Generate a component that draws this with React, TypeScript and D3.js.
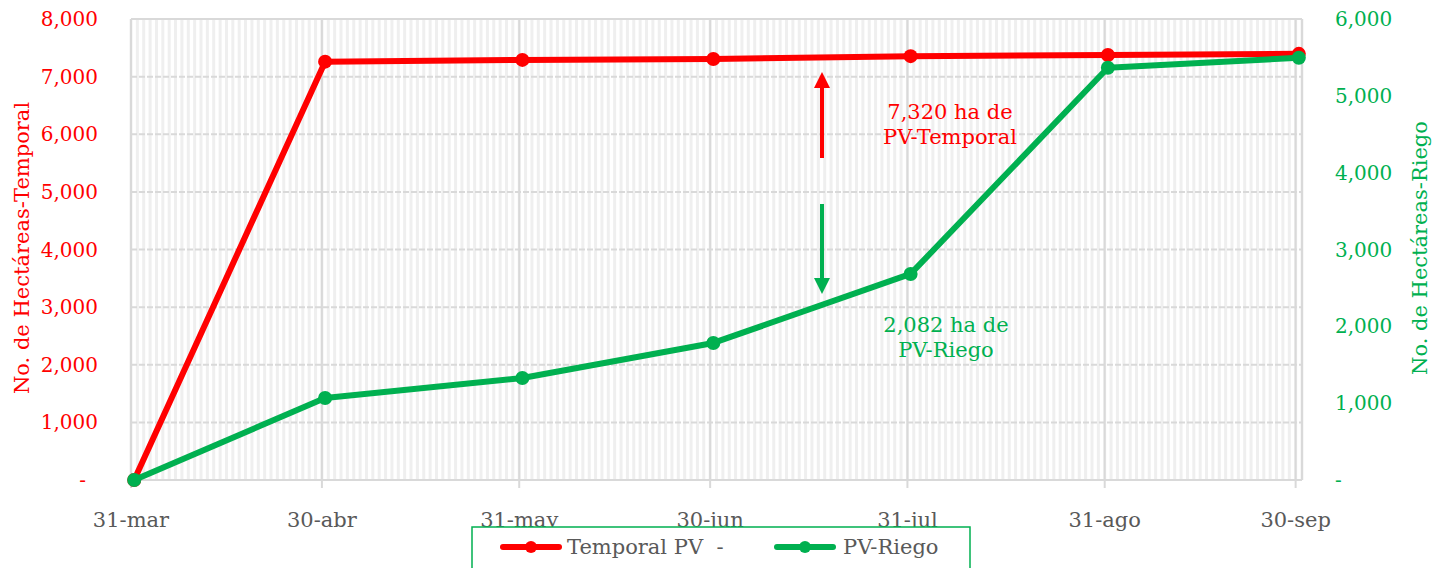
import React from "react";
import * as d3 from "d3";

const dateLabels = ["31-mar", "30-abr", "31-may", "30-jun", "31-jul", "31-ago", "30-sep"];
const dates = [
  new Date(2021, 2, 31),
  new Date(2021, 3, 30),
  new Date(2021, 4, 31),
  new Date(2021, 5, 30),
  new Date(2021, 6, 31),
  new Date(2021, 7, 31),
  new Date(2021, 8, 30),
];
const temporalValues = [0, 7260, 7290, 7305, 7355, 7375, 7395];
const riegoValues = [0, 1068, 1328, 1784, 2682, 5365, 5495];
const leftTicks = [0, 1000, 2000, 3000, 4000, 5000, 6000, 7000, 8000];
const rightTicks = [0, 1000, 2000, 3000, 4000, 5000, 6000];
const seriesNames = ["Temporal PV  -", "PV-Riego"];

const RED = "#ff0000";
const GREEN = "#00b050";
const FONT = "'DejaVu Serif', serif";

export default function App() {
  const W = 1434;
  const H = 568;
  const left = 131;
  const right = 1302;
  const top = 19;
  const bottom = 480;

  const x = d3
    .scaleTime()
    .domain([new Date(2021, 2, 31), new Date(2021, 9, 1)])
    .range([left, right]);
  const yL = d3.scaleLinear().domain([0, 8000]).range([bottom, top]);
  const yR = d3.scaleLinear().domain([0, 6000]).range([bottom, top]);

  const mid = (d: Date) => x(d3.timeHour.offset(d, 12));

  const days = d3.timeDay.range(new Date(2021, 2, 31), new Date(2021, 9, 2));

  const lineL = d3
    .line<number>()
    .x((_, i) => mid(dates[i]))
    .y((v) => yL(v));
  const lineR = d3
    .line<number>()
    .x((_, i) => mid(dates[i]))
    .y((v) => yR(v));

  const fmt = (v: number) => (v === 0 ? "-" : d3.format(",")(v));

  const arrowX = 822;

  return (
    <svg
      width={W}
      height={H}
      style={{ position: "absolute", left: 0, top: 0, background: "#fff" }}
      fontFamily={FONT}
    >
      <defs>
        <marker id="ahR" viewBox="0 0 10 10" refX="5" refY="5" markerWidth="4" markerHeight="4" orient="auto">
          <path d="M0,0 L10,5 L0,10 z" fill={RED} />
        </marker>
        <marker id="ahG" viewBox="0 0 10 10" refX="5" refY="5" markerWidth="4" markerHeight="4" orient="auto">
          <path d="M0,0 L10,5 L0,10 z" fill={GREEN} />
        </marker>
      </defs>
      {/* minor daily gridlines */}
      {days.map((d, i) => (
        <line key={"m" + i} x1={x(d)} x2={x(d)} y1={top} y2={bottom} stroke="#efefef" strokeWidth={3} />
      ))}
      {/* horizontal gridlines */}
      {leftTicks.map((t) => (
        <line
          key={"h" + t}
          x1={left}
          x2={right}
          y1={yL(t)}
          y2={yL(t)}
          stroke="#d9d9d9"
          strokeWidth={2}
          strokeDasharray={t === 8000 || t === 0 ? undefined : "6,2"}
        />
      ))}
      {/* major vertical gridlines */}
      {dates.map((d, i) => (
        <line key={"v" + i} x1={x(d)} x2={x(d)} y1={top} y2={bottom + 8} stroke="#d9d9d9" strokeWidth={2} />
      ))}
      <line x1={right} x2={right} y1={top} y2={bottom} stroke="#d9d9d9" strokeWidth={2} />

      {/* left axis labels */}
      {leftTicks.map((t) => (
        <text
          key={"lt" + t}
          x={t === 0 ? 86 : 98}
          y={yL(t)}
          dy="0.35em"
          textAnchor="end"
          fill={RED}
          fontSize={20}
        >
          {fmt(t)}
        </text>
      ))}
      {/* right axis labels */}
      {rightTicks.map((t) => (
        <text key={"rt" + t} x={1335} y={yR(t)} dy="0.35em" textAnchor="start" fill={GREEN} fontSize={20}>
          {fmt(t)}
        </text>
      ))}
      {/* x labels */}
      {dates.map((d, i) => (
        <text key={"xl" + i} x={x(d)} y={527} textAnchor="middle" fill="#595959" fontSize={21}>
          {dateLabels[i]}
        </text>
      ))}
      {/* axis titles */}
      <text
        transform={`translate(29,248) rotate(-90)`}
        textAnchor="middle"
        fill={RED}
        fontSize={21}
      >
        No. de Hectáreas-Temporal
      </text>
      <text
        transform={`translate(1427,248) rotate(-90)`}
        textAnchor="middle"
        fill={GREEN}
        fontSize={21}
      >
        No. de Hectáreas-Riego
      </text>

      {/* series */}
      <path d={lineL(temporalValues) || ""} fill="none" stroke={RED} strokeWidth={6} strokeLinejoin="round" />
      {temporalValues.map((v, i) => (
        <circle key={"pl" + i} cx={mid(dates[i])} cy={yL(v)} r={7} fill={RED} />
      ))}
      <path d={lineR(riegoValues) || ""} fill="none" stroke={GREEN} strokeWidth={6} strokeLinejoin="round" />
      {riegoValues.map((v, i) => (
        <circle key={"pr" + i} cx={mid(dates[i])} cy={yR(v)} r={7} fill={GREEN} />
      ))}

      {/* annotations */}
      <line x1={arrowX} x2={arrowX} y1={158} y2={80} stroke={RED} strokeWidth={4} markerEnd="url(#ahR)" />
      <line x1={arrowX} x2={arrowX} y1={204} y2={286} stroke={GREEN} strokeWidth={4} markerEnd="url(#ahG)" />
      <text x={950} y={119} textAnchor="middle" fill={RED} fontSize={21}>
        7,320 ha de
      </text>
      <text x={950} y={144} textAnchor="middle" fill={RED} fontSize={21}>
        PV-Temporal
      </text>
      <text x={946} y={332} textAnchor="middle" fill={GREEN} fontSize={21}>
        2,082 ha de
      </text>
      <text x={946} y={357} textAnchor="middle" fill={GREEN} fontSize={21}>
        PV-Riego
      </text>

      {/* legend */}
      <rect x={472} y={527} width={498} height={50} fill="#fff" stroke={GREEN} strokeWidth={1.5} />
      <line x1={503} x2={559} y1={547} y2={547} stroke={RED} strokeWidth={6} strokeLinecap="round" />
      <circle cx={531} cy={547} r={6} fill={RED} />
      <text x={567} y={554} fill="#595959" fontSize={21} style={{ whiteSpace: "pre" }}>
        {seriesNames[0]}
      </text>
      <line x1={777} x2={833} y1={547} y2={547} stroke={GREEN} strokeWidth={6} strokeLinecap="round" />
      <circle cx={805} cy={547} r={6} fill={GREEN} />
      <text x={843} y={554} fill="#595959" fontSize={21}>
        {seriesNames[1]}
      </text>
    </svg>
  );
}
